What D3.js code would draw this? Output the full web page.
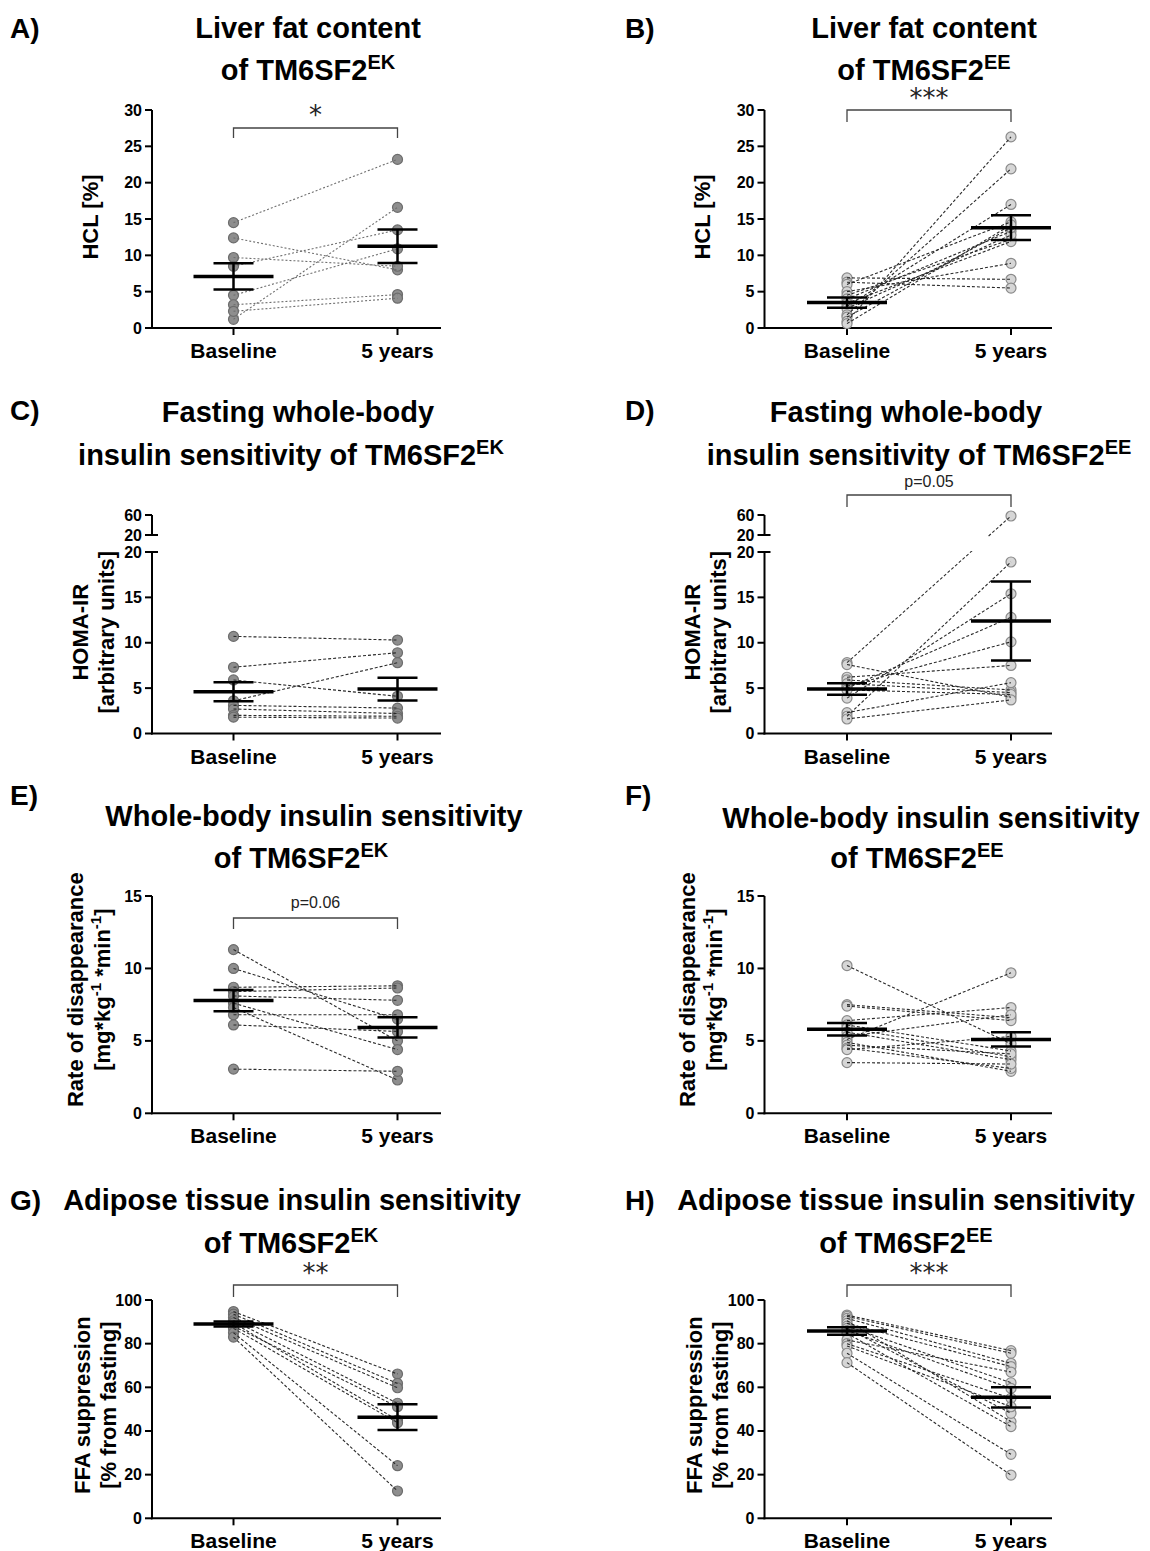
<!DOCTYPE html>
<html>
<head>
<meta charset="utf-8">
<title>TM6SF2 follow-up</title>
<script src="https://cdn.jsdelivr.net/npm/d3@7"></script>
<style>
  body {
    margin: 0;
    padding: 0;
    background: #fff;
  }
  svg {
    display: block;
    font-family: "Liberation Sans", Arial, sans-serif;
  }
</style>
</head>
<body>
<div id="chart"></div>
<script>
// categories on every x axis
var groups = ["Baseline", "5 years"]

// A) liver fat, EK carriers (paired)
var hclEK_base = [14.5, 12.4, 9.7, 8.5, 4.5, 1.2, 3.2, 2.3]
var hclEK_5y = [23.2, 8.0, 8.5, 13.5, 10.9, 16.6, 4.6, 4.1]
var hclEK_mean = [7.1, 11.25]
var hclEK_sem = [1.8, 2.3]

// B) liver fat, EE
var hclEE_base = [6.9, 6.3, 6.0, 5.0, 4.5, 4.0, 3.4, 3.0, 2.7, 1.8, 1.5, 0.9, 0.6]
var hclEE_5y = [6.7, 5.5, 14.6, 8.9, 12.2, 13.3, 11.9, 17.0, 12.8, 21.9, 13.8, 26.3, 14.2]
var hclEE_mean = [3.5, 13.8]
var hclEE_sem = [0.7, 1.7]

// C) HOMA-IR, EK
var homaEK_base = [10.7, 7.3, 5.9, 3.6, 3.1, 2.7, 2.0, 1.8]
var homaEK_5y = [10.3, 8.9, 4.1, 7.8, 2.8, 2.2, 1.9, 1.7]
var homaEK_mean = [4.6, 4.9]
var homaEK_sem = [1.05, 1.25]

// D) HOMA-IR, EE
var homaEE_base = [7.8, 7.6, 6.2, 5.9, 5.2, 5.5, 5.0, 4.8, 3.9, 2.3, 1.9, 1.6]
var homaEE_5y = [58, 4.0, 7.5, 4.8, 10.1, 4.5, 12.8, 4.3, 15.4, 5.6, 18.9, 3.7]
var homaEE_mean = [4.9, 12.4]
var homaEE_sem = [0.63, 4.35]

// E) Rd, EK
var rdEK_base = [11.3, 10.0, 8.7, 8.4, 8.1, 7.6, 6.8, 7.3, 6.1, 3.05]
var rdEK_5y = [5.0, 6.5, 8.8, 8.65, 7.8, 4.4, 6.8, 2.3, 5.65, 2.9]
var rdEK_mean = [7.78, 5.93]
var rdEK_sem = [0.73, 0.7]

// F) Rd, EE
var rdEE_base = [10.2, 7.5, 7.4, 6.4, 6.1, 5.9, 5.6, 5.3, 5.1, 4.9, 4.7, 4.5, 4.4, 3.5]
var rdEE_5y = [4.8, 6.6, 6.4, 7.3, 4.3, 3.9, 3.7, 6.8, 9.7, 2.9, 4.1, 3.1, 5.3, 3.4]
var rdEE_mean = [5.8, 5.1]
var rdEE_sem = [0.43, 0.49]

// G) FFA suppression, EK
var ffaEK_base = [94.7, 93.5, 92.0, 90.5, 89.5, 88.0, 87.0, 85.0, 83.0]
var ffaEK_5y = [66.1, 61.8, 59.8, 52.7, 45.0, 51.1, 43.8, 24.1, 12.5]
var ffaEK_mean = [89.0, 46.3]
var ffaEK_sem = [1.1, 5.9]

// H) FFA suppression, EE
var ffaEE_base = [93.1, 92.5, 91.6, 90.5, 89.3, 88.0, 87.0, 86.0, 84.7, 81.7, 80.0, 78.9, 75.6, 71.3]
var ffaEE_5y = [76.8, 75.6, 71.0, 44.3, 69.5, 62.1, 48.1, 59.5, 42.0, 67.0, 55.0, 51.1, 29.3, 19.8]
var ffaEE_mean = [85.8, 55.4]
var ffaEE_sem = [1.75, 4.6]

// tick labels
var ticksHCL = [0, 5, 10, 15, 20, 25, 30]
var ticksHomaLow = [0, 5, 10, 15, 20]
var ticksHomaHigh = [20, 60]
var ticksRd = [0, 5, 10, 15]
var ticksFFA = [0, 20, 40, 60, 80, 100]

var W = 1150, H = 1551
var svg = d3.select("#chart").append("svg")
  .attr("width", W)
  .attr("height", H)

// column / row geometry
var cols = [
  { axis: 152, xb: 233.5, x5: 397.5, end: 441, lab: 10 },
  { axis: 764.5, xb: 847, x5: 1011, end: 1052, lab: 625 }
]
var rows = [
  { y0: 328, yTop: 110, max: 30, ticks: ticksHCL, lshift: -2 },
  { y0: 733.5, yTop: 552, max: 20, ticks: ticksHomaLow, lshift: 0, brk: { lo: 535, hi: 515, max: 60, ticks: ticksHomaHigh } },
  { y0: 1113.3, yTop: 896, max: 15, ticks: ticksRd, lshift: -15 },
  { y0: 1518.3, yTop: 1300, max: 100, ticks: ticksFFA, lshift: -4 }
]

var ekStyle = { fill: "#8e8e8e", stroke: "#6c6c6c", line: "#6f6f6f", dash: "2,2" }
var ekStyle2 = { fill: "#8e8e8e", stroke: "#6c6c6c", line: "#2a2a2a", dash: "3,2" }
var eeStyle = { fill: "#d6d6d6", stroke: "#8a8a8a", line: "#2a2a2a", dash: "3,2" }

var panels = [
  { tag: "A)", col: 0, row: 0, t: ["Liver fat content", "of TM6SF2"], sup: "EK", tx: [308, 308], ty: [38, 80], ly: 38,
    ylab: ["HCL [%]"], yl: [90], base: hclEK_base, fu: hclEK_5y, mean: hclEK_mean, sem: hclEK_sem, st: ekStyle,
    sig: "*", br: 128, legs: 10, sy: 125 },
  { tag: "B)", col: 1, row: 0, t: ["Liver fat content", "of TM6SF2"], sup: "EE", tx: [924, 924], ty: [38, 80], ly: 38,
    ylab: ["HCL [%]"], yl: [702], base: hclEE_base, fu: hclEE_5y, mean: hclEE_mean, sem: hclEE_sem, st: eeStyle,
    sig: "***", br: 110, legs: 12, sy: 108 },
  { tag: "C)", col: 0, row: 1, t: ["Fasting whole-body", "insulin sensitivity of TM6SF2"], sup: "EK", tx: [298, 291], ty: [422, 465], ly: 420,
    ylab: ["HOMA-IR", "[arbitrary units]"], yl: [80, 106], base: homaEK_base, fu: homaEK_5y, mean: homaEK_mean, sem: homaEK_sem, st: ekStyle2 },
  { tag: "D)", col: 1, row: 1, t: ["Fasting whole-body", "insulin sensitivity of TM6SF2"], sup: "EE", tx: [906, 919], ty: [422, 465], ly: 420,
    ylab: ["HOMA-IR", "[arbitrary units]"], yl: [692, 718], base: homaEE_base, fu: homaEE_5y, mean: homaEE_mean, sem: homaEE_sem, st: eeStyle,
    sig: "p=0.05", br: 495, legs: 12, sy: 492 },
  { tag: "E)", col: 0, row: 2, t: ["Whole-body insulin sensitivity", "of TM6SF2"], sup: "EK", tx: [314, 301], ty: [826, 868], ly: 805,
    ylab: ["Rate of disappearance", "[mg*kg-1 *min-1]"], yl: [75, 102], base: rdEK_base, fu: rdEK_5y, mean: rdEK_mean, sem: rdEK_sem, st: ekStyle2,
    sig: "p=0.06", br: 918, legs: 11, sy: 913 },
  { tag: "F)", col: 1, row: 2, t: ["Whole-body insulin sensitivity", "of TM6SF2"], sup: "EE", tx: [931, 917], ty: [828, 868], ly: 805,
    ylab: ["Rate of disappearance", "[mg*kg-1 *min-1]"], yl: [687, 714], base: rdEE_base, fu: rdEE_5y, mean: rdEE_mean, sem: rdEE_sem, st: eeStyle },
  { tag: "G)", col: 0, row: 3, t: ["Adipose tissue insulin sensitivity", "of TM6SF2"], sup: "EK", tx: [292, 291], ty: [1210, 1253], ly: 1210,
    ylab: ["FFA suppression", "[% from fasting]"], yl: [82, 108], base: ffaEK_base, fu: ffaEK_5y, mean: ffaEK_mean, sem: ffaEK_sem, st: ekStyle2,
    sig: "**", br: 1285, legs: 12, sy: 1283 },
  { tag: "H)", col: 1, row: 3, t: ["Adipose tissue insulin sensitivity", "of TM6SF2"], sup: "EE", tx: [906, 906], ty: [1210, 1253], ly: 1210,
    ylab: ["FFA suppression", "[% from fasting]"], yl: [694, 720], base: ffaEE_base, fu: ffaEE_5y, mean: ffaEE_mean, sem: ffaEE_sem, st: eeStyle,
    sig: "***", br: 1285, legs: 12, sy: 1283 }
]

panels.forEach(function (p, i) { draw(p, i) })

function draw(p, i) {
  var c = cols[p.col], r = rows[p.row]
  var g = svg.append("g")

  var x = d3.scalePoint().domain(groups).range([c.xb, c.x5])
  var yLow = d3.scaleLinear().domain([0, r.max]).range([r.y0, r.yTop])
  var yHigh = r.brk ? d3.scaleLinear().domain([r.max, r.brk.max]).range([r.brk.lo, r.brk.hi]) : null
  var y = function (v) { return (yHigh && v > r.max) ? yHigh(v) : yLow(v) }

  // panel letter
  g.append("text").attr("x", c.lab).attr("y", p.ly)
    .attr("font-size", 28).attr("font-weight", "bold").text(p.tag)

  // title (2 lines, 2nd with superscript)
  g.append("text").attr("x", p.tx[0]).attr("y", p.ty[0]).attr("text-anchor", "middle")
    .attr("font-size", 29).attr("font-weight", "bold").text(p.t[0])
  var t2 = g.append("text").attr("x", p.tx[1]).attr("y", p.ty[1]).attr("text-anchor", "middle")
    .attr("font-size", 29).attr("font-weight", "bold")
  t2.append("tspan").text(p.t[1])
  t2.append("tspan").attr("dy", -11).attr("font-size", 20).text(p.sup)

  // y label (rotated, 1 or 2 lines)
  var ymid = (r.brk ? (r.y0 + r.brk.hi) / 2 + 8 : (r.y0 + r.yTop) / 2) + r.lshift
  p.ylab.forEach(function (s, k) {
    var tl = g.append("text")
      .attr("transform", "translate(" + (p.yl[k] + 8) + "," + ymid + ") rotate(-90)")
      .attr("text-anchor", "middle").attr("font-size", 22).attr("font-weight", "bold")
    if (s.indexOf("mg*kg") >= 0) {
      tl.append("tspan").text("[mg*kg")
      tl.append("tspan").attr("dy", -9).attr("font-size", 15).text("-1")
      tl.append("tspan").attr("dy", 9).text(" *min")
      tl.append("tspan").attr("dy", -9).attr("font-size", 15).text("-1")
      tl.append("tspan").attr("dy", 9).text("]")
    } else {
      tl.text(s)
    }
  })

  // y axis (lower / main segment)
  g.append("line").attr("x1", c.axis).attr("x2", c.axis)
    .attr("y1", yLow(0) + 1).attr("y2", yLow(r.max))
    .attr("stroke", "#000").attr("stroke-width", 2)
  r.ticks.forEach(function (v) {
    var yy = yLow(v)
    var isTop = r.brk && v == r.max
    g.append("line").attr("x1", c.axis - 7).attr("x2", isTop ? c.axis + 6 : c.axis)
      .attr("y1", yy).attr("y2", yy).attr("stroke", "#000").attr("stroke-width", 2)
    g.append("text").attr("x", c.axis - 10).attr("y", yy + 5.5).attr("text-anchor", "end")
      .attr("font-size", 16).attr("font-weight", "bold").text(v)
  })

  // upper segment of a broken axis
  if (r.brk) {
    g.append("line").attr("x1", c.axis).attr("x2", c.axis)
      .attr("y1", yHigh(r.max)).attr("y2", yHigh(r.brk.max))
      .attr("stroke", "#000").attr("stroke-width", 2)
    r.brk.ticks.forEach(function (v) {
      var yy = yHigh(v)
      var isBot = v == r.max
      g.append("line").attr("x1", c.axis - 7).attr("x2", isBot ? c.axis + 6 : c.axis)
        .attr("y1", yy).attr("y2", yy).attr("stroke", "#000").attr("stroke-width", 2)
      g.append("text").attr("x", c.axis - 10).attr("y", yy + 5.5).attr("text-anchor", "end")
        .attr("font-size", 16).attr("font-weight", "bold").text(v)
    })
  }

  // x axis
  g.append("line").attr("x1", c.axis - 1).attr("x2", c.end)
    .attr("y1", r.y0).attr("y2", r.y0).attr("stroke", "#000").attr("stroke-width", 2)
  groups.forEach(function (gname) {
    g.append("line").attr("x1", x(gname)).attr("x2", x(gname))
      .attr("y1", r.y0).attr("y2", r.y0 + 7).attr("stroke", "#000").attr("stroke-width", 2)
    g.append("text").attr("x", x(gname)).attr("y", r.y0 + 30).attr("text-anchor", "middle")
      .attr("font-size", 21).attr("font-weight", "bold").text(gname)
  })

  // clip away the gap of the broken axis
  var clipId = "clip" + i
  var cp = svg.append("defs").append("clipPath").attr("id", clipId)
  if (r.brk) {
    cp.append("rect").attr("x", c.axis).attr("y", 0).attr("width", 320).attr("height", r.brk.lo + 2)
    cp.append("rect").attr("x", c.axis).attr("y", r.yTop - 1).attr("width", 320).attr("height", r.y0 - r.yTop + 20)
  } else {
    cp.append("rect").attr("x", c.axis).attr("y", 0).attr("width", 320).attr("height", H)
  }

  // dots
  var pts = g.append("g")
  p.base.forEach(function (v) {
    pts.append("circle").attr("cx", x(groups[0])).attr("cy", y(v)).attr("r", 5)
      .attr("fill", p.st.fill).attr("stroke", p.st.stroke).attr("stroke-width", 1.2)
  })
  p.fu.forEach(function (v) {
    pts.append("circle").attr("cx", x(groups[1])).attr("cy", y(v)).attr("r", 5)
      .attr("fill", p.st.fill).attr("stroke", p.st.stroke).attr("stroke-width", 1.2)
  })

  // paired lines
  var pairs = p.base.map(function (v, k) { return [v, p.fu[k]] })
  g.append("g").attr("clip-path", "url(#" + clipId + ")")
    .selectAll("line").data(pairs).enter().append("line")
    .attr("x1", x(groups[0])).attr("x2", x(groups[1]))
    .attr("y1", function (d) { return y(d[0]) })
    .attr("y2", function (d) { return y(d[1]) })
    .attr("stroke", p.st.line).attr("stroke-width", 1.1)
    .attr("stroke-dasharray", p.st.dash)

  // mean +- SEM
  groups.forEach(function (gname, k) {
    var cx = x(gname), m = p.mean[k], s = p.sem[k]
    g.append("line").attr("x1", cx).attr("x2", cx).attr("y1", y(m - s)).attr("y2", y(m + s))
      .attr("stroke", "#000").attr("stroke-width", 2.5)
    ;[m - s, m + s].forEach(function (v) {
      g.append("line").attr("x1", cx - 20).attr("x2", cx + 20).attr("y1", y(v)).attr("y2", y(v))
        .attr("stroke", "#000").attr("stroke-width", 2.5)
    })
    g.append("line").attr("x1", cx - 40).attr("x2", cx + 40).attr("y1", y(m)).attr("y2", y(m))
      .attr("stroke", "#000").attr("stroke-width", 3.5)
  })

  // significance bracket
  if (p.sig) {
    var xa = x(groups[0]), xb = x(groups[1])
    g.append("path")
      .attr("d", "M" + xa + "," + (p.br + p.legs) + "V" + p.br + "H" + xb + "V" + (p.br + p.legs))
      .attr("fill", "none").attr("stroke", "#444").attr("stroke-width", 1.3)
    var isStar = p.sig.indexOf("*") >= 0
    g.append("text").attr("x", (xa + xb) / 2).attr("y", isStar ? p.sy - 1 : p.sy - 5)
      .attr("text-anchor", "middle")
      .attr("font-size", isStar ? 26 : 16)
      .attr("font-family", isStar ? "DejaVu Sans, sans-serif" : null)
      .attr("fill", "#222")
      .text(p.sig)
  }
}
</script>
</body>
</html>
